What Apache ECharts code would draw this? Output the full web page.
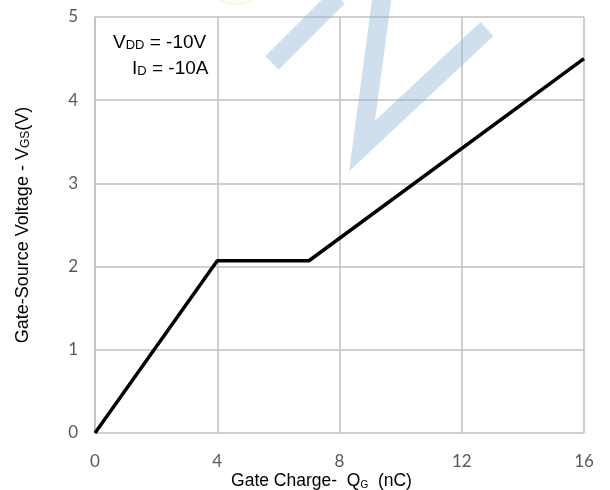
<!DOCTYPE html>
<html>
<head>
<meta charset="utf-8">
<script src="https://cdn.jsdelivr.net/npm/echarts@6/dist/echarts.min.js"></script>
<style>
  html, body { margin: 0; padding: 0; background: #fff; }
  #chart { width: 610px; height: 490px; }
</style>
</head>
<body>
<div id="chart"></div>
<script>
// gate charge (nC) and gate-source voltage (V)
var qg = [0, 4, 7, 16]
var vgs = [0, 2.07, 2.07, 4.5]
// axis ranges
var xTicks = [0, 4, 8, 12, 16]
var yTicks = [0, 1, 2, 3, 4, 5]

var font = 'Liberation Sans, Arial, sans-serif'
var tickFont = 'Lato, sans-serif'
var gridColor = '#bfbfbf'
var labelColor = '#595959'
var markColor = 'rgba(150,185,215,0.45)'

var chart = echarts.init(document.getElementById('chart'))

var option = {
  animation: false,
  // fixed plot box, don't let v6 shrink it to fit the names
  grid: { left: 95, right: 26, top: 17, bottom: 57, outerBoundsMode: 'none', containLabel: false },
  xAxis: {
    type: 'value',
    min: xTicks[0],
    max: xTicks[xTicks.length - 1],
    interval: 4,
    name: '{t|Gate Charge-  Q}{s|G}{t|  (nC)}',
    nameLocation: 'middle',
    nameGap: 39,
    nameMoveOverlap: false,
    nameTextStyle: {
      padding: [0, 36, 0, 0],
      rich: {
        t: { fontFamily: font, fontSize: 17.5, color: '#000' },
        s: { fontFamily: font, fontSize: 10, color: '#000', verticalAlign: 'bottom', padding: [6, 0, 0, 0] },
      },
    },
    axisLine: { show: false },
    axisTick: { show: false },
    axisLabel: { color: labelColor, fontFamily: tickFont, fontSize: 17, margin: 20 },
    splitLine: { lineStyle: { color: gridColor, width: 1.5 } },
  },
  yAxis: {
    type: 'value',
    min: yTicks[0],
    max: yTicks[yTicks.length - 1],
    interval: 1,
    name: '{t|Gate-Source Voltage - V}{s|GS}{t|(V)}',
    nameLocation: 'middle',
    nameGap: 63,
    nameMoveOverlap: false,
    nameRotate: 90,
    nameTextStyle: {
      rich: {
        t: { fontFamily: font, fontSize: 18, color: '#000' },
        s: { fontFamily: font, fontSize: 12, color: '#000', verticalAlign: 'bottom', padding: [5, 0, 0, 0] },
      },
    },
    axisLine: { show: true, lineStyle: { color: gridColor, width: 1.5 } },
    axisTick: { show: false },
    axisLabel: { color: labelColor, fontFamily: tickFont, fontSize: 17, margin: 17 },
    splitLine: { lineStyle: { color: gridColor, width: 1.5 } },
  },
  // conditions text + watermark
  graphic: [
    {
      type: 'circle',
      shape: { cx: 236, cy: -32, r: 36 },
      style: { fill: 'rgba(255,248,220,0.3)', stroke: 'rgba(250,230,160,0.3)', lineWidth: 2 },
      silent: true,
    },
    {
      type: 'polyline',
      shape: { points: [[272, 63], [338, -3]] },
      style: { stroke: markColor, lineWidth: 19, fill: null },
      z: 50,
      silent: true,
    },
    {
      type: 'polyline',
      shape: { points: [[382, -3], [362, 146], [487, 29]] },
      style: { stroke: markColor, lineWidth: 19, fill: null, lineJoin: 'miter' },
      z: 50,
      silent: true,
    },
    {
      type: 'text',
      left: 113,
      top: 33,
      style: {
        text: '{t|V}{s|DD}{t| = -10V}',
        rich: {
          t: { fontFamily: font, fontSize: 19, fill: '#000' },
          s: { fontFamily: font, fontSize: 13, fill: '#000', verticalAlign: 'bottom', padding: [6, 0, 0, 0] },
        },
      },
      z: 100,
    },
    {
      type: 'text',
      left: 132,
      top: 59,
      style: {
        text: '{t|I}{s|D}{t| = -10A}',
        rich: {
          t: { fontFamily: font, fontSize: 19, fill: '#000' },
          s: { fontFamily: font, fontSize: 13, fill: '#000', verticalAlign: 'bottom', padding: [6, 0, 0, 0] },
        },
      },
      z: 100,
    },
  ],
  series: [
    {
      type: 'line',
      data: qg.map(function (q, i) { return [q, vgs[i]] }),
      showSymbol: false,
      lineStyle: { color: '#000', width: 3.5 },
      z: 60,
    },
  ],
}

chart.setOption(option)
</script>
</body>
</html>
